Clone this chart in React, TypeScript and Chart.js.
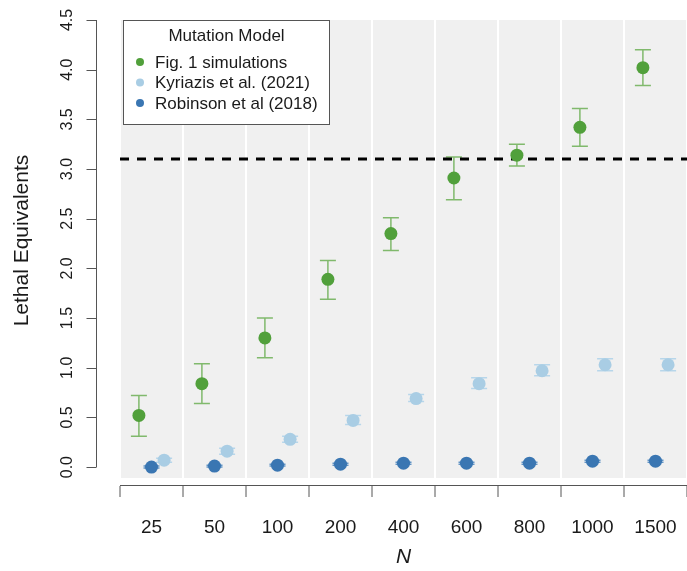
import React, { useEffect, useRef } from "react";
import { Chart, registerables } from "chart.js";

Chart.register(...registerables);

// ---- data ----
const nLabels = ["25", "50", "100", "200", "400", "600", "800", "1000", "1500"];

const figOneMean = [0.52, 0.84, 1.30, 1.89, 2.35, 2.91, 3.14, 3.42, 4.02];
const figOneLow = [0.31, 0.64, 1.10, 1.69, 2.18, 2.69, 3.03, 3.23, 3.84];
const figOneHigh = [0.72, 1.04, 1.50, 2.08, 2.51, 3.12, 3.25, 3.61, 4.20];

const kyriazisMean = [0.07, 0.16, 0.28, 0.47, 0.69, 0.84, 0.97, 1.03, 1.03];
const kyriazisLow = [0.05, 0.13, 0.25, 0.43, 0.66, 0.79, 0.92, 0.97, 0.97];
const kyriazisHigh = [0.09, 0.19, 0.31, 0.52, 0.73, 0.90, 1.03, 1.09, 1.09];

const robinsonMean = [0.0, 0.01, 0.02, 0.03, 0.04, 0.04, 0.04, 0.06, 0.06];
const robinsonLow = [-0.01, 0.0, 0.01, 0.02, 0.03, 0.03, 0.03, 0.05, 0.05];
const robinsonHigh = [0.01, 0.02, 0.03, 0.04, 0.05, 0.05, 0.05, 0.07, 0.07];

const thresholdValue = 3.1;
const yTickValues = [0, 0.5, 1.0, 1.5, 2.0, 2.5, 3.0, 3.5, 4.0, 4.5];
const yTickLabels = ["0.0", "0.5", "1.0", "1.5", "2.0", "2.5", "3.0", "3.5", "4.0", "4.5"];

const legendTitle = "Mutation Model";
const seriesNames = ["Fig. 1 simulations", "Kyriazis et al. (2021)", "Robinson et al (2018)"];

// ---- styles ----
const FONT = "'Liberation Sans', Arial, Helvetica, sans-serif";
const GREEN = "#51a03b";
const LIGHT = "#a9cde4";
const DARK = "#3a76b2";
const GREEN_BAR = "#80b96c";
const LIGHT_BAR = "#b7d6ea";
const DARK_BAR = "#5f92c4";
const PANEL_MIN = -0.11;

type Series = {
  name: string;
  color: string;
  barColor: string;
  mean: number[];
  low: number[];
  high: number[];
  offset: number;
};

const series: Series[] = [
  { name: seriesNames[0], color: GREEN, barColor: GREEN_BAR, mean: figOneMean, low: figOneLow, high: figOneHigh, offset: -0.2 },
  { name: seriesNames[1], color: LIGHT, barColor: LIGHT_BAR, mean: kyriazisMean, low: kyriazisLow, high: kyriazisHigh, offset: 0.2 },
  { name: seriesNames[2], color: DARK, barColor: DARK_BAR, mean: robinsonMean, low: robinsonLow, high: robinsonHigh, offset: 0 },
];

const customPlugin = {
  id: "custom",
  beforeDraw(chart: any) {
    const { ctx, chartArea, scales } = chart;
    const y = scales.y;
    ctx.save();
    ctx.fillStyle = "#f0f0f0";
    const bottom = y.getPixelForValue(PANEL_MIN);
    ctx.fillRect(chartArea.left, chartArea.top, chartArea.right - chartArea.left, bottom - chartArea.top);
    ctx.restore();
  },
  beforeDatasetsDraw(chart: any) {
    const { ctx, scales } = chart;
    const x = scales.xl;
    const y = scales.y;
    ctx.save();
    series.forEach((s) => {
      ctx.strokeStyle = s.barColor;
      ctx.lineWidth = 1.5;
      s.mean.forEach((_, i) => {
        const px = x.getPixelForValue(i + 0.5 + s.offset);
        const pLo = y.getPixelForValue(s.low[i]);
        const pHi = y.getPixelForValue(s.high[i]);
        ctx.beginPath();
        ctx.moveTo(px, pLo);
        ctx.lineTo(px, pHi);
        ctx.moveTo(px - 8, pLo);
        ctx.lineTo(px + 8, pLo);
        ctx.moveTo(px - 8, pHi);
        ctx.lineTo(px + 8, pHi);
        ctx.stroke();
      });
    });
    ctx.restore();
  },
  afterDraw(chart: any) {
    const { ctx, scales } = chart;
    const y = scales.y;
    ctx.save();
    // y axis
    const axisX = 96.5;
    ctx.strokeStyle = "#555";
    ctx.lineWidth = 1;
    ctx.beginPath();
    ctx.moveTo(axisX, y.getPixelForValue(yTickValues[0]));
    ctx.lineTo(axisX, y.getPixelForValue(yTickValues[yTickValues.length - 1]));
    yTickValues.forEach((v) => {
      const py = Math.round(y.getPixelForValue(v)) + 0.5;
      ctx.moveTo(axisX - 10, py);
      ctx.lineTo(axisX, py);
    });
    ctx.stroke();
    ctx.fillStyle = "#1a1a1a";
    ctx.font = `16px ${FONT}`;
    ctx.textAlign = "center";
    ctx.textBaseline = "alphabetic";
    yTickValues.forEach((v, i) => {
      ctx.save();
      ctx.translate(72, y.getPixelForValue(v));
      ctx.rotate(-Math.PI / 2);
      ctx.fillText(yTickLabels[i], 0, 0);
      ctx.restore();
    });
    // y title
    ctx.save();
    ctx.font = `21px ${FONT}`;
    ctx.translate(28, (y.getPixelForValue(0) + y.getPixelForValue(4.5)) / 2 - 3);
    ctx.rotate(-Math.PI / 2);
    ctx.fillText("Lethal Equivalents", 0, 0);
    ctx.restore();

    // legend
    const lx = 123.5, ly = 20.5, lw = 206, lh = 104;
    ctx.fillStyle = "#ffffff";
    ctx.fillRect(lx, ly, lw, lh);
    ctx.strokeStyle = "#555";
    ctx.lineWidth = 1;
    ctx.strokeRect(lx, ly, lw, lh);
    ctx.fillStyle = "#1a1a1a";
    ctx.font = `17px ${FONT}`;
    ctx.textAlign = "center";
    ctx.textBaseline = "middle";
    ctx.fillText(legendTitle, lx + lw / 2, 36);
    const rows = [62, 82.5, 103];
    series.forEach((s, i) => {
      ctx.fillStyle = s.color;
      ctx.beginPath();
      ctx.arc(140, rows[i], 4, 0, Math.PI * 2);
      ctx.fill();
      ctx.fillStyle = "#1a1a1a";
      ctx.textAlign = "left";
      ctx.fillText(s.name, 155, rows[i] + 1);
    });
    ctx.restore();
  },
};

export default function App() {
  const ref = useRef<HTMLCanvasElement | null>(null);

  useEffect(() => {
    if (!ref.current) return;
    Chart.defaults.font.family = FONT;
    const datasets: any[] = [
      {
        type: "line",
        label: "threshold",
        xAxisID: "xl",
        yAxisID: "y",
        data: [
          { x: 0, y: thresholdValue },
          { x: nLabels.length, y: thresholdValue },
        ],
        borderColor: "#000000",
        borderWidth: 3,
        borderDash: [9, 8],
        pointRadius: 0,
        fill: false,
        order: 10,
      },
      ...series.map((s) => ({
        type: "scatter",
        label: s.name,
        xAxisID: "xl",
        yAxisID: "y",
        data: s.mean.map((v, i) => ({ x: i + 0.5 + s.offset, y: v })),
        backgroundColor: s.color,
        borderWidth: 0,
        pointRadius: 6.5,
        pointHoverRadius: 6.5,
        order: 0,
      })),
    ];

    const chart = new Chart(ref.current, {
      type: "scatter",
      data: { labels: nLabels, datasets },
      options: {
        animation: false,
        responsive: false,
        devicePixelRatio: 1,
        layout: { autoPadding: false, padding: { left: 120, top: 20, right: 0, bottom: 0 } },
        plugins: { legend: { display: false }, tooltip: { enabled: false } },
        scales: {
          x: {
            type: "category",
            labels: nLabels,
            position: "bottom",
            offset: true,
            grid: {
              offset: true,
              color: "#ffffff",
              lineWidth: 2,
              drawTicks: true,
              tickLength: 12,
              tickColor: "#555555",
              tickWidth: 1,
            },
            border: { display: true, color: "#555555", width: 1 },
            ticks: {
              font: { size: 19, family: FONT },
              color: "#1a1a1a",
              padding: 19,
              autoSkip: false,
              maxRotation: 0,
              minRotation: 0,
            },
            title: {
              display: true,
              text: "N",
              color: "#1a1a1a",
              font: { size: 21, style: "italic", family: FONT },
              padding: { top: 0, bottom: 1 },
            },
            afterFit: (s: any) => {
              s.height = 86;
              s.paddingLeft = 0;
              s.paddingRight = 0;
            },
          },
          xl: {
            type: "linear",
            display: false,
            min: 0,
            max: nLabels.length,
          },
          y: {
            type: "linear",
            display: false,
            min: -0.18,
            max: 4.5,
          },
        },
      } as any,
      plugins: [customPlugin],
    } as any);
    return () => chart.destroy();
  }, []);

  return (
    <div style={{ position: "absolute", left: 0, top: 0, width: 687, height: 571, background: "#fff" }}>
      <canvas ref={ref} width={687} height={571} style={{ display: "block" }} />
    </div>
  );
}
